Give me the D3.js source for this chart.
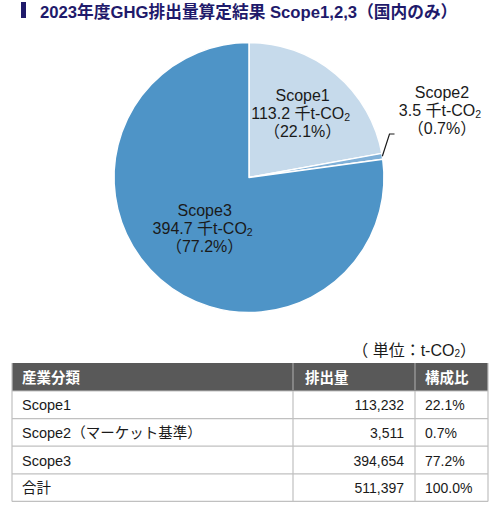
<!DOCTYPE html>
<html><head><meta charset="utf-8">
<script src="https://cdn.jsdelivr.net/npm/d3@7/dist/d3.min.js"></script>
<style>
html,body{margin:0;padding:0;background:#fff;}
svg{display:block;}
</style></head>
<body>
<script>
const title = "2023年度GHG排出量算定結果 Scope1,2,3（国内のみ）";
const categories = ["Scope1", "Scope2", "Scope3"];
const values = [113232, 3511, 394654];
const pieValueLabels = ["113.2 千t-CO", "3.5 千t-CO", "394.7 千t-CO"];
const pieShareLabels = ["（22.1%）", "（0.7%）", "（77.2%）"];
const sliceColors = ["#c6daeb", "#7fb0d8", "#4e94c7"];
const tableHeaders = ["産業分類", "排出量", "構成比"];
const tableLabels = ["Scope1", "Scope2（マーケット基準）", "Scope3", "合計"];
const tableValues = ["113,232", "3,511", "394,654", "511,397"];
const tableShares = ["22.1%", "0.7%", "77.2%", "100.0%"];
const unitLabel = "（ 単位：t-CO";

const W = 500, H = 506;
const svg = d3.select("body").append("svg").attr("width", W).attr("height", H);

// Title
const navy = "#1f1a6b";
svg.append("rect").attr("x", 21).attr("y", 2).attr("width", 5).attr("height", 16).attr("fill", navy);
svg.append("text").attr("x", 40).attr("y", 17.5)
  .attr("font-family", "'Liberation Sans', Arial, 'Noto Sans CJK JP', sans-serif")
  .attr("font-weight", "bold").attr("font-size", 16.7).attr("fill", navy).text(title);

// Pie
const cx = 249, cy = 177.5, R = 135;
const pie = d3.pie().sort(null).value(d => d);
const arcs = pie(values);
const arc = d3.arc().innerRadius(0).outerRadius(R);
const g = svg.append("g").attr("transform", `translate(${cx},${cy})`);
g.selectAll("path").data(arcs).join("path")
  .attr("d", arc).attr("fill", (d, i) => sliceColors[i])
  .attr("stroke", "#fff").attr("stroke-width", 1.5).attr("stroke-linejoin", "round");

const labelFont = "'Liberation Sans', Arial, 'Noto Sans CJK JP', sans-serif";
const labelRadii = [0.62 * R, null, 0.5 * R];
function labelPos(d, i) {
  if (i === 1) return [442 - cx, 92 - cy];
  const r = labelRadii[i];
  const a = (d.startAngle + d.endAngle) / 2;
  return [Math.sin(a) * r, -Math.cos(a) * r - 18];
}
function drawLabel(gp, i, x, y) {
  const t = gp.append("text").attr("text-anchor", "middle")
    .attr("font-family", labelFont).attr("font-size", 16).attr("fill", "#1a1a1a");
  t.append("tspan").attr("x", x).attr("y", y + 5.5).text(categories[i]);
  t.append("tspan").attr("x", x - 2).attr("y", y + 23.5).text(pieValueLabels[i]);
  t.append("tspan").attr("font-size", 10.5).attr("dy", 2).text("2");
  t.append("tspan").attr("x", x).attr("y", y + 41.5).text(pieShareLabels[i]);
}
arcs.forEach((d, i) => {
  const [x, y] = labelPos(d, i);
  drawLabel(g, i, x, y);
});
// Leader line for Scope2
{
  const d = arcs[1];
  const a = (d.startAngle + d.endAngle) / 2;
  const p0 = [Math.sin(a) * R, -Math.cos(a) * R];
  const p1 = [389.5 - cx, 134 - cy];
  const p2 = [394.5 - cx, 134 - cy];
  g.append("path").attr("d", d3.line()([p0, p1, p2]))
    .attr("fill", "none").attr("stroke", "#1a1a1a").attr("stroke-width", 1.2);
}

// Unit label
const tableFont = "'Liberation Sans', Arial, 'Noto Sans CJK JP', sans-serif";
{
  const t = svg.append("text").attr("x", 476).attr("y", 356).attr("text-anchor", "end")
    .attr("font-family", tableFont).attr("font-size", 16).attr("fill", "#1a1a1a");
  t.append("tspan").text(unitLabel);
  t.append("tspan").attr("font-size", 10).attr("dy", 1).text("2");
  t.append("tspan").attr("dy", -1).text("）");
}

// Table
const tx0 = 12, tx1 = 293, tx2 = 415, tx3 = 488;
const ty0 = 363, headH = 28, rowH = 27.6;
const border = "#c0c0c0";
svg.append("rect").attr("x", tx0).attr("y", ty0).attr("width", tx3 - tx0).attr("height", headH)
  .attr("fill", "#595959");
const rowsY = d3.range(tableLabels.length + 1).map(i => ty0 + headH + i * rowH);
const hx = [tx0 + 10, tx1 + 12, tx2 + 10];
tableHeaders.forEach((h, i) => {
  svg.append("text").attr("x", hx[i]).attr("y", ty0 + 19.5)
    .attr("font-family", tableFont).attr("font-weight", "bold").attr("font-size", 14.5)
    .attr("fill", "#fff").text(h);
});
rowsY.forEach((y) => {
  svg.append("line").attr("x1", tx0).attr("x2", tx3).attr("y1", y).attr("y2", y)
    .attr("stroke", border).attr("stroke-width", 1.2);
});
[tx0, tx1, tx2, tx3].forEach(x => {
  svg.append("line").attr("x1", x).attr("x2", x).attr("y1", ty0).attr("y2", rowsY[rowsY.length - 1])
    .attr("stroke", border).attr("stroke-width", 1.2);
});
[tx1, tx2].forEach(x => {
  svg.append("line").attr("x1", x).attr("x2", x).attr("y1", ty0).attr("y2", ty0 + headH)
    .attr("stroke", "#7a7a7a").attr("stroke-width", 1.2);
});
tableLabels.forEach((lab, i) => {
  const yb = rowsY[i] + rowH / 2 + 5.5;
  svg.append("text").attr("x", tx0 + 10).attr("y", yb)
    .attr("font-family", tableFont).attr("font-size", 14.5).attr("fill", "#1a1a1a").text(lab);
  svg.append("text").attr("x", tx2 - 11).attr("y", yb).attr("text-anchor", "end")
    .attr("font-family", tableFont).attr("font-size", 14).attr("fill", "#1a1a1a").text(tableValues[i]);
  svg.append("text").attr("x", tx2 + 10).attr("y", yb)
    .attr("font-family", tableFont).attr("font-size", 14).attr("fill", "#1a1a1a").text(tableShares[i]);
});
</script>
</body></html>
